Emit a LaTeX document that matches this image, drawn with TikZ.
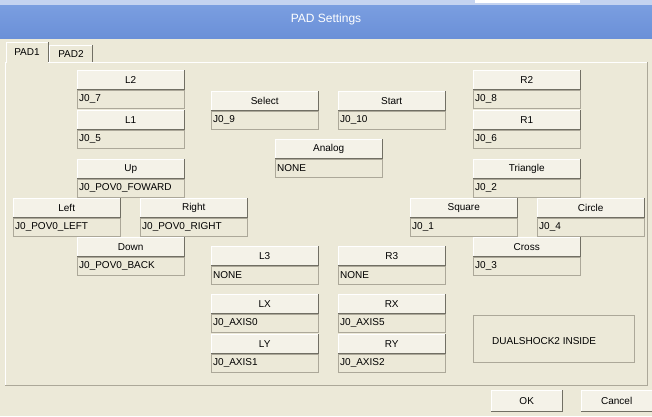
\documentclass[tikz,border=0pt]{standalone}
\usepackage{fontspec}
\setmainfont{Liberation Sans}
\definecolor{bg}{HTML}{ECE9D8}
\definecolor{btn}{HTML}{F4F2E8}
\definecolor{shd}{HTML}{716F64}
\definecolor{brd}{HTML}{ACA899}
\definecolor{tb1}{HTML}{7A9EE0}
\definecolor{tb2}{HTML}{6B90D8}
\definecolor{tbtop}{HTML}{C4D3F0}
\tikzset{
  txt/.style={font=\fontsize{10}{12}\selectfont, text=black, inner sep=0pt},
  button/.style={draw=white, fill=btn, minimum width=107pt, minimum height=19pt, anchor=north west, inner sep=0pt, font=\fontsize{10}{12}\selectfont},
  valbox/.style={draw=brd, fill=bg, minimum width=107pt, minimum height=18pt, anchor=north west, inner sep=0pt, font=\fontsize{10}{12}\selectfont, text width=103pt, align=left},
}
\newcommand{\padctl}[5]{%
  \node[button] (#1b) at (#2,#3) {#4};
  \draw[shd, line width=1pt] ([xshift=0.5pt]#1b.north east) -- ([xshift=0.5pt,yshift=-0.5pt]#1b.south east) -- ([yshift=-0.5pt]#1b.south west);
  \node[valbox] (#1v) at (#2,#3+20) {#5};
}
\begin{document}
\begin{tikzpicture}[x=1pt,y=-1pt]
\useasboundingbox (0,0) rectangle (652,416);
\fill[bg] (0,0) rectangle (652,416);
\shade[top color=tb1, bottom color=tb2] (0,5) rectangle (652,38);
\fill[tbtop] (0,0) rectangle (652,5);
\fill[white] (475,0) rectangle (580,3);
\node[txt, text=white, font=\fontsize{12}{14}\selectfont] (title) at (326,19) {PAD Settings};
% tab panel
\draw[white] (5,385) -- (5,62) -- (647,62);
\draw[brd] (647,62) -- (647,385) -- (5,385);
\fill[bg] (6,42) rectangle (48,63);
\draw[white] (6,63) -- (6,42) -- (48,42);
\draw[shd] (48,42) -- (48,62);
\node[txt] (tab1) at (27,52) {PAD1};
\draw[white] (49,62) -- (49,45) -- (92,45);
\draw[shd] (92,45) -- (92,62);
\node[txt] (tab2) at (71,54) {PAD2};
\padctl{l2}{77}{70}{L2}{J0\_7}
\padctl{l1}{77}{110}{L1}{J0\_5}
\padctl{sel}{211}{91}{Select}{J0\_9}
\padctl{sta}{338}{91}{Start}{J0\_10}
\padctl{r2}{473}{70}{R2}{J0\_8}
\padctl{r1}{473}{110}{R1}{J0\_6}
\padctl{ana}{275}{139}{Analog}{NONE}
\padctl{up}{77}{159}{Up}{J0\_POV0\_FOWARD}
\padctl{tri}{473}{159}{Triangle}{J0\_2}
\padctl{lef}{13}{198}{Left}{J0\_POV0\_LEFT}
\padctl{rig}{140}{198}{Right}{J0\_POV0\_RIGHT}
\padctl{squ}{410}{198}{Square}{J0\_1}
\padctl{cir}{537}{198}{Circle}{J0\_4}
\padctl{dow}{77}{237}{Down}{J0\_POV0\_BACK}
\padctl{cro}{473}{237}{Cross}{J0\_3}
\padctl{l3}{211}{246}{L3}{NONE}
\padctl{r3}{338}{246}{R3}{NONE}
\padctl{lx}{211}{294}{LX}{J0\_AXIS0}
\padctl{rx}{338}{294}{RX}{J0\_AXIS5}
\padctl{ly}{211}{334}{LY}{J0\_AXIS1}
\padctl{ry}{338}{334}{RY}{J0\_AXIS2}
\draw[brd] (473.5,315.5) rectangle (634.5,362.5);
\node[txt, anchor=west] (ds) at (492,341) {DUALSHOCK2 INSIDE};
\node[button, minimum width=71pt, minimum height=21pt] (ok) at (491,390) {OK};
\draw[shd, line width=1pt] ([xshift=0.5pt]ok.north east) -- ([xshift=0.5pt,yshift=-0.5pt]ok.south east) -- ([yshift=-0.5pt]ok.south west);
\node[button, minimum width=71pt, minimum height=21pt] (cancel) at (581,390) {Cancel};
\draw[shd, line width=1pt] ([xshift=0.5pt]cancel.north east) -- ([xshift=0.5pt,yshift=-0.5pt]cancel.south east) -- ([yshift=-0.5pt]cancel.south west);
\end{tikzpicture}
\end{document}
